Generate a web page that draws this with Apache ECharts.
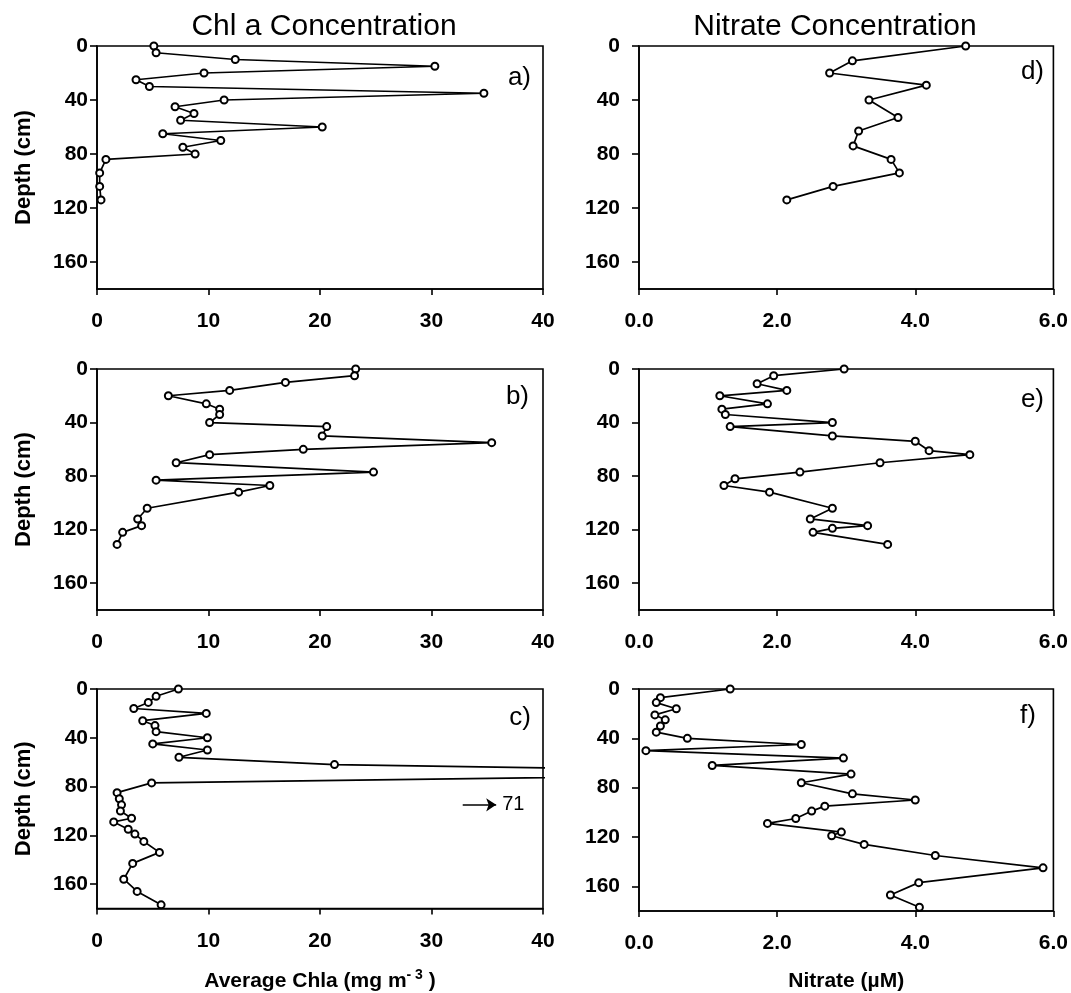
<!DOCTYPE html>
<html><head><meta charset="utf-8">
<script src="https://cdn.jsdelivr.net/npm/echarts@6/dist/echarts.min.js"></script>
<style>html,body{margin:0;padding:0;background:#fff}#c{width:1071px;height:993px}</style>
</head><body><div id="c"></div><script>
// ---- data ----
const depthA = [0,5,10,15,20,25,30,35,40,45,50,55,60,65,70,75,80,84,94,104,114];
const chlA   = [5.1,5.3,12.4,30.3,9.6,3.5,4.7,34.7,11.4,7.0,8.7,7.5,20.2,5.9,11.1,7.7,8.8,0.8,0.24,0.24,0.36];
const depthB = [0,5,10,16,20,26,30,34,40,43,50,55,60,64,70,77,83,87,92,104,112,117,122,131];
const chlB   = [23.2,23.1,16.9,11.9,6.4,9.8,11.0,11.0,10.1,20.6,20.2,35.4,18.5,10.1,7.1,24.8,5.3,15.5,12.7,4.5,3.65,4.0,2.3,1.8];
const depthC = [0,6,11,16,20,26,30,35,40,45,50,56,62,69,77,85,90,95,100,106,109,115,119,125,134,143,156,166,177];
const chlC   = [7.3,5.3,4.6,3.3,9.8,4.1,5.2,5.3,9.9,5.0,9.9,7.35,21.3,71,4.9,1.8,2.0,2.2,2.1,3.1,1.5,2.8,3.4,4.2,5.6,3.2,2.4,3.6,5.75];
const depthD = [0,11,20,29,40,53,63,74,84,94,104,114];
const no3D   = [4.73,3.09,2.76,4.16,3.33,3.75,3.18,3.10,3.65,3.77,2.81,2.14];
const depthE = [0,5,11,16,20,26,30,34,40,43,50,54,61,64,70,77,82,87,92,104,112,117,119,122,131];
const no3E   = [2.97,1.95,1.71,2.14,1.17,1.86,1.20,1.25,2.80,1.32,2.80,4.0,4.2,4.79,3.49,2.33,1.39,1.23,1.89,2.80,2.48,3.31,2.80,2.52,3.60];
const depthF = [0,7,11,16,21,25,30,35,40,45,50,56,62,69,76,85,90,95,99,105,109,116,119,126,135,145,157,167,177];
const no3F   = [1.32,0.31,0.25,0.54,0.23,0.38,0.31,0.25,0.70,2.35,0.10,2.96,1.06,3.07,2.35,3.09,4.0,2.69,2.50,2.27,1.86,2.93,2.79,3.26,4.29,5.85,4.05,3.64,4.06];
const chlTicks = [0,10,20,30,40];
const no3Ticks = [0,2,4,6];
const depthTicks = [0,40,80,120,160];
const offScaleLabel = '71';
const offScaleDepth = 95;
const arrowFrom = 32.8, arrowTo = 35.8;
const panelLabels = ['a)','d)','b)','e)','c)','f)'];
const titles = ['Chl a Concentration','Nitrate Concentration'];

// ---- layout / style ----
const FONT = '"Liberation Sans", Arial, Helvetica, sans-serif';
const grids = [
  {left:97, top:46, width:446, height:243},
  {left:639, top:46, width:415, height:243},
  {left:97, top:369, width:446, height:241},
  {left:639, top:369, width:415, height:241},
  {left:97, top:689, width:446, height:227},
  {left:639, top:689, width:415, height:227}
];
const panelData = [
  [chlA, depthA],[no3D, depthD],[chlB, depthB],[no3E, depthE],[chlC, depthC],[no3F, depthF]
];
const labelPos = [[531,78],[1044,72],[529,397],[1044,400],[531,718],[1036,716]];

const lbl = {color:'#000', fontSize:21, fontWeight:'bold', fontFamily:FONT};
const xAxes = [], yAxes = [], series = [];
grids.forEach((g, i) => {
  const left = i % 2 === 0;
  const bottom = i >= 4;
  const ticks = left ? chlTicks : no3Ticks;
  xAxes.push({
    gridIndex:i, type:'value', min:ticks[0], max:ticks[ticks.length-1], interval:ticks[1]-ticks[0],
    axisLine:{show:true, onZero:false, lineStyle:{color:'#000', width:1.6}},
    axisTick:{show:true, length:6, lineStyle:{color:'#000', width:1.6}},
    splitLine:{show:false},
    axisLabel:Object.assign({margin:22, formatter: left ? (v => String(v)) : (v => v.toFixed(1))}, lbl),
    name: bottom ? (left ? 'Average Chla (mg m{sup|- 3} )' : 'Nitrate (µM)') : '',
    nameLocation:'middle', nameGap:60,
    nameTextStyle:Object.assign({}, lbl, {rich:{sup:{fontSize:14, fontWeight:'bold', color:'#000', fontFamily:FONT, verticalAlign:'top', padding:[0,0,12,0]}}})
  });
  yAxes.push({
    gridIndex:i, type:'value', inverse:true, min:0, max:180, interval:depthTicks[1]-depthTicks[0],
    axisLine:{show:true, onZero:false, lineStyle:{color:'#000', width:1.6}},
    axisTick:{show:true, length:7, lineStyle:{color:'#000', width:1.6}},
    splitLine:{show:false},
    axisLabel:Object.assign({margin: left ? 9 : 19, showMaxLabel:false}, lbl),
    name: left ? 'Depth (cm)' : '', nameLocation:'middle', nameRotate:90, nameGap:62,
    nameTextStyle:Object.assign({}, lbl, {fontSize:22})
  });
  const [xs, ds] = panelData[i];
  const s = {
    type:'line', xAxisIndex:i, yAxisIndex:i, data: xs.map((v,k)=>[v, ds[k]]),
    symbol:'emptyCircle', symbolSize:7, clip:true, animation:false,
    lineStyle:{color:'#000', width:1.7},
    itemStyle:{color:'#000', borderColor:'#000', borderWidth:1.6}
  };
  if (i === 4) {
    s.markLine = {
      silent:true, symbol:['none','arrow'], symbolSize:[10,10], animation:false,
      lineStyle:{color:'#000', width:1.6, type:'solid'},
      label:{show:true, position:'end', formatter:offScaleLabel, fontSize:20, color:'#000', fontFamily:FONT, distance:6},
      data:[[{coord:[arrowFrom, offScaleDepth]},{coord:[arrowTo, offScaleDepth]}]]
    };
  }
  series.push(s);
});

const graphics = [];
titles.forEach((t, j) => {
  graphics.push({type:'text', x: j===0 ? 324 : 835, y:27, silent:true,
    style:{text:t, font:'normal 30px '+FONT, fill:'#000', align:'center', verticalAlign:'middle', textAlign:'center', textVerticalAlign:'middle'}});
});
panelLabels.forEach((t, i) => {
  graphics.push({type:'text', x:labelPos[i][0], y:labelPos[i][1], silent:true,
    style:{text:t, font:'normal 26px '+FONT, fill:'#000', align:'right', verticalAlign:'middle', textAlign:'right', textVerticalAlign:'middle'}});
});

const chart = echarts.init(document.getElementById('c'), null, {renderer:'canvas'});
chart.setOption({
  animation:false, backgroundColor:'#fff',
  grid: grids.map(g => Object.assign({show:true, borderColor:'#000', borderWidth:1.6, backgroundColor:'transparent', containLabel:false}, g)),
  xAxis:xAxes, yAxis:yAxes, series:series, graphic:graphics
});
</script></body></html>
